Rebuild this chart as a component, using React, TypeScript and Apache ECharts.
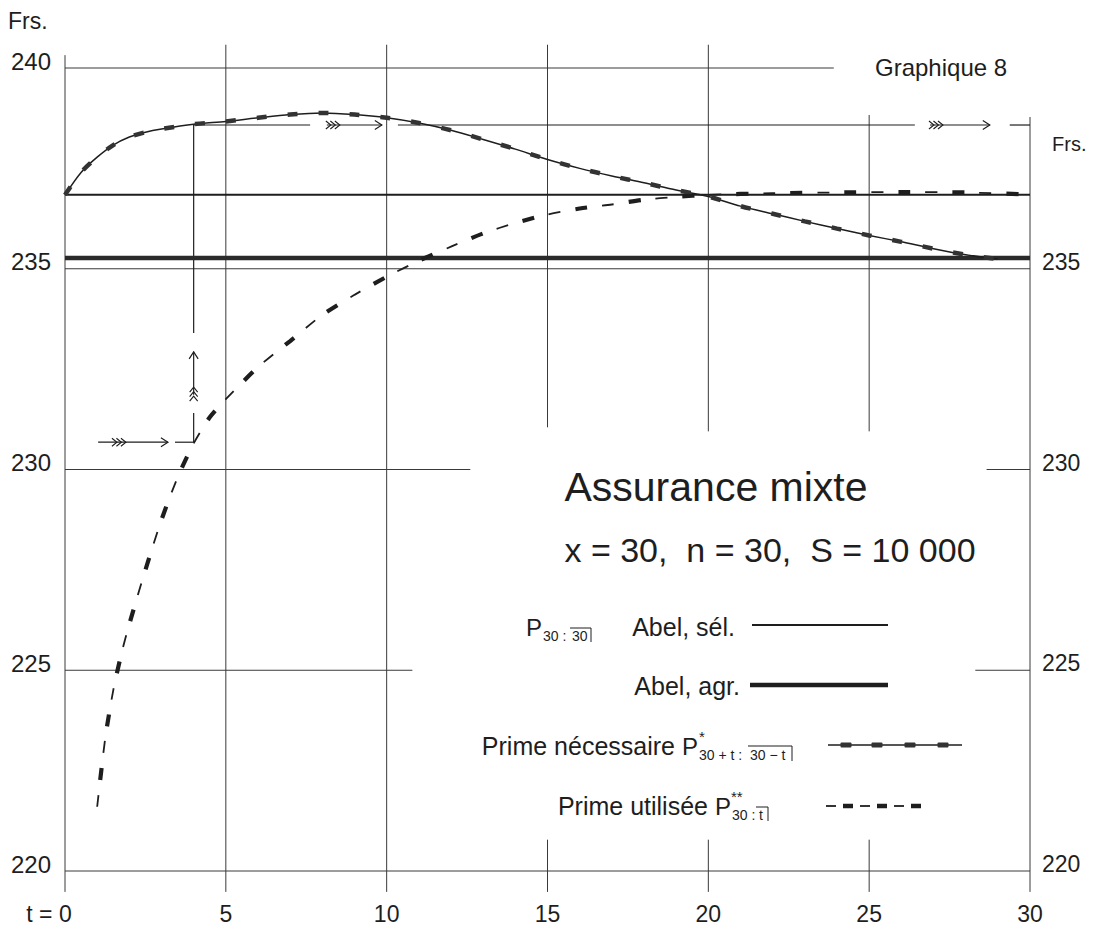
import React, { useEffect, useRef } from "react";
import * as echarts from "echarts";

// ---------- data ----------
const X_MIN = 0;
const X_MAX = 30;
const X_STEP = 5;
const Y_MIN = 220;
const Y_MAX = 240;
const Y_STEP = 5;

// P 30:30 Abel, sélection / agrégée (constant premiums)
const ABEL_SEL = 236.84;
const ABEL_AGR = 235.27;

// Prime nécessaire P*_{30+t : 30-t}
const NEC_T = [0, 0.5, 1, 1.5, 2, 2.5, 3, 4, 5, 6, 7, 8, 9, 10, 11, 12, 13, 14, 15, 16, 17, 18, 19, 20, 21, 22, 23, 24, 25, 26, 27, 28, 29];
const NEC_V = [236.84, 237.4, 237.78, 238.08, 238.28, 238.4, 238.48, 238.6, 238.67, 238.76, 238.84, 238.88, 238.84, 238.76, 238.63, 238.45, 238.22, 237.98, 237.72, 237.5, 237.31, 237.14, 236.96, 236.8, 236.56, 236.37, 236.18, 236.0, 235.83, 235.67, 235.5, 235.35, 235.24];

// Prime utilisée P**_{30 : t}
const UTIL_T = [1, 1.25, 1.5, 1.75, 2, 2.5, 3, 3.5, 4, 4.5, 5, 6, 7, 8, 9, 10, 11, 12, 13, 14, 15, 16, 17, 18, 19, 20, 22, 24, 26, 28, 30];
const UTIL_V = [221.6, 223.3, 224.5, 225.4, 226.15, 227.5, 228.75, 229.8, 230.65, 231.3, 231.75, 232.55, 233.2, 233.85, 234.35, 234.8, 235.2, 235.55, 235.88, 236.14, 236.35, 236.5, 236.6, 236.72, 236.79, 236.84, 236.88, 236.9, 236.91, 236.9, 236.85];

// reading guide at t = 4
const GUIDE_T = 4;
const GUIDE_NEC = 238.58;
const GUIDE_UTIL = 230.68;

// ---------- data-space segments of the printed grid and guides ----------
const GRID_V: number[][] = [
  [0, 240.32, 219.48], [5, 240.58, 219.48], [10, 240.58, 219.48],
  [15, 240.58, 231.05], [15, 220.78, 219.48],
  [20, 240.58, 230.95], [20, 220.78, 219.48],
  [25, 238.83, 230.95], [25, 220.78, 219.48],
  [30, 238.78, 219.48],
];
const GRID_H: number[][] = [
  [240, 0, 23.9], [235, 0, 30], [230, 0, 12.6], [230, 28.65, 30],
  [225, 0, 10.8], [225, 28.3, 30], [220, 0, 30],
];
const GUIDE_SEGMENTS: number[][][] = [
  [[GUIDE_T, GUIDE_NEC], [7.62, GUIDE_NEC]],
  [[8.14, GUIDE_NEC], [9.85, GUIDE_NEC]],
  [[10.35, GUIDE_NEC], [26.42, GUIDE_NEC]],
  [[26.89, GUIDE_NEC], [28.75, GUIDE_NEC]],
  [[29.37, GUIDE_NEC], [30, GUIDE_NEC]],
  [[1.03, GUIDE_UTIL], [3.2, GUIDE_UTIL]],
  [[3.42, GUIDE_UTIL], [GUIDE_T, GUIDE_UTIL]],
  [[GUIDE_T, GUIDE_UTIL], [GUIDE_T, 231.41]],
  [[GUIDE_T, 231.86], [GUIDE_T, 232.93]],
  [[GUIDE_T, 233.4], [GUIDE_T, GUIDE_NEC]],
];
const GUIDE_HEADS: [number, number, string][] = [
  [9.85, GUIDE_NEC, "right"], [28.75, GUIDE_NEC, "right"], [3.2, GUIDE_UTIL, "right"], [GUIDE_T, 232.93, "up"],
];
const GUIDE_FEATHERS: [number, number, string][] = [
  [8.14, GUIDE_NEC, "right"], [26.89, GUIDE_NEC, "right"], [1.49, GUIDE_UTIL, "right"], [GUIDE_T, 231.73, "up"],
];

const INK = "#1e1e1e";
const GRID_COLOR = "#3a3a3a";
const FONT = "'Liberation Sans', Arial, sans-serif";

function renderAnnotations(_params: any, api: any) {
  const c = (t: number, v: number) => api.coord([t, v]);
  const children: any[] = [];
  const seg = (p1: number[], p2: number[], w: number, color: string) =>
    children.push({
      type: "line",
      shape: { x1: p1[0], y1: p1[1], x2: p2[0], y2: p2[1] },
      style: { stroke: color, lineWidth: w },
    });
  for (const [t, a, b] of GRID_V) seg(c(t, a), c(t, b), 1, GRID_COLOR);
  for (const [v, a, b] of GRID_H) seg(c(a, v), c(b, v), 1, GRID_COLOR);
  for (const [[t1, v1], [t2, v2]] of GUIDE_SEGMENTS) seg(c(t1, v1), c(t2, v2), 1.2, INK);
  for (const [t, v, dir] of GUIDE_HEADS) {
    const [x, y] = c(t, v);
    const pts = dir === "right"
      ? [[x - 7, y - 4.5], [x, y], [x - 7, y + 4.5]]
      : [[x - 4.5, y + 7], [x, y], [x + 4.5, y + 7]];
    children.push({ type: "polyline", shape: { points: pts }, style: { stroke: INK, lineWidth: 1.2, fill: "none" } });
  }
  for (const [t, v, dir] of GUIDE_FEATHERS) {
    const [x, y] = c(t, v);
    for (let k = 0; k < 3; k++) {
      const d = 3 + k * 4.5;
      const pts = dir === "right"
        ? [[x + d - 4, y - 4], [x + d + 1, y], [x + d - 4, y + 4]]
        : [[x - 4, y - d + 4], [x, y - d - 1], [x + 4, y - d + 4]];
      children.push({ type: "polyline", shape: { points: pts }, style: { stroke: INK, lineWidth: 1.1, fill: "none" } });
    }
  }
  return { type: "group", children };
}

const txt = (text: string, x: number, y: number, size: number, align = "left") => ({
  type: "text",
  x,
  y,
  silent: true,
  style: { text, fontSize: size, fontFamily: FONT, fill: INK, align, verticalAlign: "middle" },
});
const gline = (x1: number, y1: number, x2: number, y2: number, w: number) => ({
  type: "line",
  silent: true,
  shape: { x1, y1, x2, y2 },
  style: { stroke: INK, lineWidth: w },
});
const grect = (cx: number, cy: number, w: number, h: number) => ({
  type: "rect",
  silent: true,
  shape: { x: cx - w / 2, y: cy - h / 2, width: w, height: h, r: 1 },
  style: { fill: "#333" },
});

export default function App() {
  const ref = useRef<HTMLDivElement>(null);
  useEffect(() => {
    if (!ref.current) return;
    const chart = echarts.init(ref.current, null, { renderer: "svg" });

    const necData = NEC_T.map((t, i) => [t, NEC_V[i]]);
    const utilData = UTIL_T.map((t, i) => [t, UTIL_V[i]]);

    const graphic: any[] = [
      txt("Frs.", 8, 21, 23),
      txt("Graphique 8", 875, 67, 24),
      txt("Frs.", 1052, 144, 20),
      txt("Assurance mixte", 716, 487, 41, "center"),
      txt("x = 30,  n = 30,  S = 10 000", 770, 550, 34, "center"),
      // row 1
      txt("P", 526, 627, 24),
      txt("30 :", 543, 636, 14),
      txt("30", 572, 636, 14),
      gline(570, 628, 591, 628, 1),
      gline(591, 628, 591, 642, 1),
      txt("Abel, sél.", 735, 627, 25, "right"),
      gline(752, 625, 888, 625, 2),
      // row 2
      txt("Abel, agr.", 740, 686, 25, "right"),
      gline(750, 685, 888, 685, 4.5),
      // row 3
      txt("Prime nécessaire", 675, 746, 25, "right"),
      txt("P", 682, 746, 24),
      txt("*", 699, 736, 15),
      txt("30 + t :", 699, 755, 14),
      txt("30 − t", 750, 755, 14),
      gline(748, 746, 792, 746, 1),
      gline(792, 746, 792, 761, 1),
      gline(828, 745, 962, 745, 1.5),
      grect(846, 745, 11, 5),
      grect(877, 745, 11, 5),
      grect(910, 745, 11, 5),
      grect(943, 745, 11, 5),
      // row 4
      txt("Prime utilisée", 708, 806, 25, "right"),
      txt("P", 715, 806, 24),
      txt("**", 731, 796, 15),
      txt("30 :", 732, 815, 14),
      txt("t", 759, 815, 14),
      gline(756, 807, 768, 807, 1),
      gline(768, 807, 768, 821, 1),
      gline(826, 806, 836, 806, 1.8),
      gline(843, 806, 853, 806, 4.5),
      gline(860, 806, 870, 806, 1.8),
      gline(877, 806, 887, 806, 4.5),
      gline(894, 806, 904, 806, 1.8),
      gline(911, 806, 921, 806, 4.5),
    ];

    chart.setOption({
      animation: false,
      backgroundColor: "#ffffff",
      textStyle: { fontFamily: FONT, color: INK },
      grid: { left: 65, right: 67, top: 68, bottom: 58, containLabel: false, outerBoundsMode: "none" },
      xAxis: {
        type: "value",
        min: X_MIN,
        max: X_MAX,
        interval: X_STEP,
        axisLine: { show: false },
        axisTick: { show: false },
        splitLine: { show: false },
        axisLabel: {
          fontSize: 23,
          color: INK,
          fontFamily: FONT,
          margin: 31,
          formatter: (v: number) => (v === 0 ? "{a|t = }0{b|}" : String(v)),
          rich: { a: { fontSize: 23, color: INK, fontFamily: FONT }, b: { width: 32 } },
        },
      },
      yAxis: [
        {
          type: "value",
          position: "left",
          min: Y_MIN,
          max: Y_MAX,
          interval: Y_STEP,
          axisLine: { show: false },
          axisTick: { show: false },
          splitLine: { show: false },
          axisLabel: { fontSize: 24, color: INK, fontFamily: FONT, margin: 14, verticalAlign: "bottom", lineHeight: 14 },
        },
        {
          type: "value",
          position: "right",
          min: Y_MIN,
          max: Y_MAX,
          interval: Y_STEP,
          axisLine: { show: false },
          axisTick: { show: false },
          splitLine: { show: false },
          axisLabel: {
            fontSize: 23,
            color: INK,
            fontFamily: FONT,
            margin: 12,
            verticalAlign: "bottom",
            lineHeight: 14,
            formatter: (v: number) => (v === Y_MAX ? "" : String(v)),
          },
        },
      ],
      graphic,
      series: [
        {
          type: "custom",
          name: "grid",
          silent: true,
          z: 1,
          data: [[GUIDE_T, GUIDE_UTIL]],
          renderItem: renderAnnotations,
        },
        {
          type: "line",
          name: "Abel, sél.",
          z: 2,
          symbol: "none",
          silent: true,
          data: [[X_MIN, ABEL_SEL], [X_MAX, ABEL_SEL]],
          lineStyle: { color: INK, width: 2 },
        },
        {
          type: "line",
          name: "Abel, agr.",
          z: 2,
          symbol: "none",
          silent: true,
          data: [[X_MIN, ABEL_AGR], [X_MAX, ABEL_AGR]],
          lineStyle: { color: "#2a2a2a", width: 4.5 },
        },
        {
          type: "line",
          name: "Prime nécessaire",
          z: 3,
          symbol: "none",
          silent: true,
          smooth: 0.3,
          data: necData,
          lineStyle: { color: INK, width: 1.5 },
        },
        {
          type: "line",
          name: "Prime nécessaire (marques)",
          z: 4,
          symbol: "none",
          silent: true,
          smooth: 0.3,
          data: necData,
          lineStyle: { color: "#333", width: 4.5, type: [10, 21] },
        },
        {
          type: "line",
          name: "Prime utilisée",
          z: 3,
          symbol: "none",
          silent: true,
          smooth: 0.25,
          data: utilData,
          lineStyle: { color: INK, width: 1.8, type: [12, 42] },
        },
        {
          type: "line",
          name: "Prime utilisée (épais)",
          z: 4,
          symbol: "none",
          silent: true,
          smooth: 0.25,
          data: utilData,
          lineStyle: { color: INK, width: 4.2, type: [12, 42], dashOffset: -27 },
        },
      ],
    });
    return () => chart.dispose();
  }, []);

  return (
    <div
      ref={ref}
      style={{ position: "absolute", left: 0, top: 0, width: "1097px", height: "929px", background: "#fff" }}
    />
  );
}
